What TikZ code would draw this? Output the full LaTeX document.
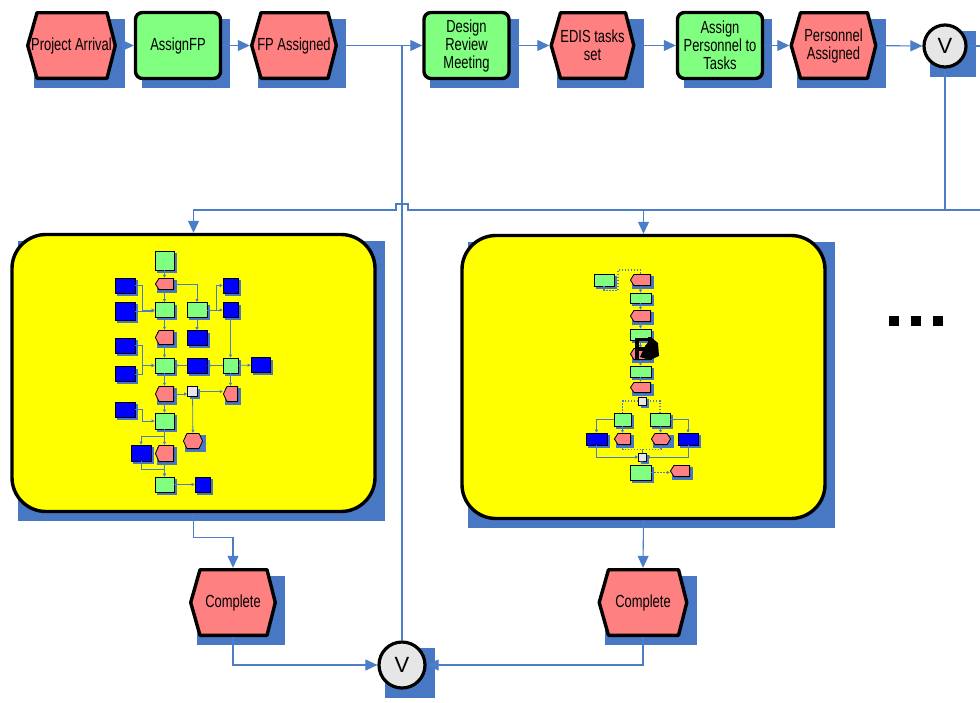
\documentclass[tikz,border=0pt]{standalone}
\usepackage{fontspec}
\setmainfont{Liberation Sans}
\newfontfamily\lbl{Liberation Sans}[FakeStretch=0.74]
\usepackage{tikz}
\usetikzlibrary{shapes, arrows.meta, positioning, calc, backgrounds}
\pgfdeclarelayer{sub}
\pgfdeclarelayer{subshade}
\pgfsetlayers{background,sub,subshade,main}

\definecolor{evtred}{RGB}{255,128,128}
\definecolor{fngreen}{RGB}{128,255,128}
\definecolor{shadowblue}{RGB}{72,120,196}
\definecolor{linkblue}{RGB}{74,126,200}
\definecolor{congray}{RGB}{230,230,230}
\definecolor{boxblue}{RGB}{0,0,255}
\definecolor{subyellow}{RGB}{255,255,0}

\tikzstyle{evt} = [rectangle, minimum width=88pt, minimum height=69pt, inner sep=2pt, align=center, font=\lbl\fontsize{17.5}{18}\selectfont, path picture={
    \filldraw[fill=evtred, line width=3.4pt, line join=round]
      ([xshift=1.7pt]path picture bounding box.west)
      -- ([xshift=11pt,yshift=-1.7pt]path picture bounding box.north west)
      -- ([xshift=-10pt,yshift=-1.7pt]path picture bounding box.north east)
      -- ([xshift=-1.7pt]path picture bounding box.east)
      -- ([xshift=-10pt,yshift=1.7pt]path picture bounding box.south east)
      -- ([xshift=11pt,yshift=1.7pt]path picture bounding box.south west) -- cycle;}]
\tikzstyle{fn} = [rectangle, draw, line width=3.4pt, fill=fngreen, rounded corners=7pt, minimum width=85pt, minimum height=66pt, inner sep=1pt, align=center, font=\lbl\fontsize{17.5}{18}\selectfont]
\tikzstyle{con} = [circle, draw, line width=3.2pt, fill=congray, minimum size=42pt, inner sep=0pt, font=\fontsize{22}{22}\selectfont]
\tikzstyle{subproc} = [rectangle, draw, line width=3.4pt, fill=subyellow, rounded corners=34pt, minimum width=363pt, minimum height=277pt]
\tikzstyle{flow} = [draw=linkblue, line width=1.1pt, -{Triangle[length=12pt, width=11pt]}]
\tikzstyle{link} = [draw=linkblue, line width=1.1pt]
% mini diagrams inside the sub processes
\tikzstyle{mfn} = [rectangle, draw, line width=0.8pt, fill=fngreen, minimum width=19pt, minimum height=15pt, inner sep=0pt]
\tikzstyle{mbx} = [rectangle, draw, line width=0.6pt, fill=boxblue, minimum width=20pt, minimum height=15pt, inner sep=0pt]
\tikzstyle{mcn} = [rectangle, draw, line width=0.6pt, fill=congray, minimum size=10pt, inner sep=0pt]
\tikzstyle{mev} = [rectangle, minimum width=19pt, minimum height=15pt, inner sep=0pt, path picture={
    \filldraw[fill=evtred, line width=0.8pt, line join=round]
      ([xshift=0.4pt]path picture bounding box.west)
      -- ([xshift=4pt,yshift=-0.4pt]path picture bounding box.north west)
      -- ([xshift=-0.4pt,yshift=-0.4pt]path picture bounding box.north east)
      -- ([xshift=-0.4pt,yshift=0.4pt]path picture bounding box.south east)
      -- ([xshift=4pt,yshift=0.4pt]path picture bounding box.south west) -- cycle;}]
\tikzstyle{mhx} = [rectangle, minimum width=20pt, minimum height=15pt, inner sep=0pt, path picture={
    \filldraw[fill=evtred, line width=0.8pt, line join=round]
      ([xshift=0.4pt]path picture bounding box.west)
      -- ([xshift=4pt,yshift=-0.4pt]path picture bounding box.north west)
      -- ([xshift=-4pt,yshift=-0.4pt]path picture bounding box.north east)
      -- ([xshift=-0.4pt]path picture bounding box.east)
      -- ([xshift=-4pt,yshift=0.4pt]path picture bounding box.south east)
      -- ([xshift=4pt,yshift=0.4pt]path picture bounding box.south west) -- cycle;}]
\tikzstyle{mlink} = [draw=linkblue, line width=0.8pt, -{Triangle[length=3pt, width=3pt]}]
\tikzstyle{mdot} = [draw=linkblue, line width=1.3pt, dash pattern=on 1.5pt off 1.5pt]

\begin{document}
\begin{tikzpicture}[x=1pt, y=-1pt]
        \useasboundingbox (0,0) rectangle (980,702);

        % Main chain
        \node[evt, minimum width=91pt] (pa) at (71.5,45.5) {Project Arrival};
        \node[fn] (afp) at (178,45.5) {AssignFP};
        \node[evt] (fpa) at (294,45.5) {FP Assigned};
        \node[fn] (drm) at (466.5,45.5) {Design\\Review\\Meeting};
        \node[evt, minimum width=86pt] (eds) at (592.5,45.5) {EDIS tasks\\set};
        \node[fn] (apt) at (720,45.5) {Assign\\Personnel to\\Tasks};
        \node[evt] (pas) at (833.5,45.5) {Personnel\\Assigned};
        \node[con] (v1) at (945,46) {V};

        % Sub processes
        \begin{pgfonlayer}{sub}
        \node[subproc] (bx1) at (193.5,373) {};
        \node[subproc, minimum height=283pt] (bx2) at (643.5,377) {};
        \end{pgfonlayer}

        % Join
        \node[evt] (c1) at (233,602.5) {Complete};
        \node[evt, minimum width=91pt] (c2) at (643,602.5) {Complete};
        \node[con, minimum size=46pt] (v2) at (402,665) {V};

        \coordinate (split) at (945,210);
        \coordinate (out1) at (980,46);
        \coordinate (out2) at (980,210);

        % Shadows
        \begin{scope}[on background layer]
        \foreach \n in {pa,afp,fpa,drm,eds,apt,pas,v1,bx1,bx2,c1,c2,v2}
            \fill[shadowblue] ($(\n.west |- \n.north)+(8,8)$) rectangle ($(\n.east |- \n.south)+(8,8)$);
        \end{scope}

        % Connectors
        \draw[flow] (pa) -- (afp);
        \draw[flow] (afp) -- (fpa);
        \draw[flow] (fpa) -- (drm);
        \draw[link] (v2.north |- fpa.east) -- (v2.north);
        \draw[flow] (drm) -- (eds);
        \draw[flow] (eds) -- (apt);
        \draw[flow] (apt) -- (pas);
        \draw[flow] (pas) -- (v1);
        \draw[link] (v1) -- (out1);
        \draw[link] (v1) -- (split) -- (out2);
        \draw[flow] (split) -- (bx2.north |- split) -- (bx2.north);
        \draw[flow] (bx2.north |- split) -- ($(v2.north |- split)+(6,0)$) -- ++(0,-6) -- ++(-12,0) -- ++(0,6) -- (bx1.north |- split) -- (bx1.north);
        \draw[flow] (bx1.south) -- ++(0,24) -| (c1.north);
        \draw[flow] (bx2.south) -- (c2.north);
        \draw[flow] (c1.south) |- (v2.west);
        \draw[flow] (c2.south) |- (v2.east);

        % More sub processes
        \foreach \x in {889,911,933}
            \fill (\x,316) rectangle ++(10,10);

        % Left sub process
        \node[mfn, minimum height=19pt] (l1) at (164.5,260.5) {};
        \node[mev, minimum height=12pt] (l2) at (164.5,284) {};
        \node[mbx] (l3) at (125,285.5) {};
        \node[mbx, minimum height=18pt] (l4) at (125,311) {};
        \node[mfn] (l5) at (164.5,310) {};
        \node[mfn, minimum width=20pt] (l6) at (197,310) {};
        \node[mbx, minimum width=15pt] (l7) at (230.5,285.5) {};
        \node[mbx, minimum width=15pt] (l8) at (230.5,310) {};
        \node[mev] (l9) at (164.5,337.5) {};
        \node[mbx] (l10) at (197,338) {};
        \node[mbx] (l11) at (125,345.5) {};
        \node[mbx] (l12) at (125,374) {};
        \node[mfn] (l13) at (164.5,365.5) {};
        \node[mbx] (l14) at (197,365.5) {};
        \node[mfn, minimum width=15pt] (l15) at (230.5,365.5) {};
        \node[mbx, minimum width=19pt] (l16) at (260.5,365) {};
        \node[mev, minimum height=16pt] (l17) at (164.5,394) {};
        \node[mcn] (l18) at (192.5,391.5) {};
        \node[mev, minimum width=15pt, minimum height=16pt] (l19) at (230.5,394) {};
        \node[mbx] (l20) at (125,409.5) {};
        \node[mfn, minimum height=16pt] (l21) at (164.5,421) {};
        \node[mhx, minimum height=16pt] (l22) at (193,441) {};
        \node[mbx, minimum height=16pt] (l23) at (141,453) {};
        \node[mev, minimum height=17pt] (l24) at (164.5,453.5) {};
        \node[mfn] (l25) at (164.5,484.5) {};
        \node[mbx, minimum width=15pt] (l26) at (202.5,484.5) {};

        \draw[mlink] (l1) -- (l2);
        \draw[mlink] (l2) -- (l5);
        \draw[mlink] (l3.east) -- ++(7,0) |- (l5.west);
        \draw[mlink] (l4.east) -- (l4.east -| l5.west);
        \draw[mlink] (l2.east) -| (l6.north);
        \draw[mlink] (l6.east) -- (l8.west);
        \draw[mlink] (l6.east) -- ++(9,0) |- (l7.west);
        \draw[mlink] (l5) -- (l9);
        \draw[mlink] (l6) -- (l10);
        \draw[mlink] (l9) -- (l13);
        \draw[mlink] (l11.east) -- ++(7,0) |- (l13.west);
        \draw[mlink] (l12.east) -- ++(7,0) |- (l13.west);
        \draw[mlink] (l14) -- (l13);
        \draw[mlink] (l15) -- (l14);
        \draw[mlink] (l15) -- (l16);
        \draw[mlink] (l8) -- (l15);
        \draw[mlink] (l13) -- (l17);
        \draw[mlink] (l17.east) -- (l17.east -| l18.west);
        \draw[mlink] (l18.east) -- (l18.east -| l19.west);
        \draw[mlink] (l15) -- (l19);
        \draw[mlink] (l18) -- (l22);
        \draw[mlink] (l17) -- (l21);
        \draw[mlink] (l20.east) -- ++(7,0) |- (l21.west);
        \draw[mlink] (l21) -- (l24);
        \draw[mlink] (l21.south) -- ++(0,7) -| (l23.north);
        \draw[mlink] (l24) -- (l25);
        \draw[mlink] (l23.south) -- ++(0,8) -| (l25.north);
        \draw[mlink] (l25) -- (l26);

        % Right sub process
        \node[mfn, minimum width=20pt, minimum height=12pt] (r1) at (604,280) {};
        \node[mev, minimum width=21pt, minimum height=12pt] (r2) at (640.5,280) {};
        \node[mfn, minimum width=21pt, minimum height=10pt] (r3) at (640.5,298) {};
        \node[mev, minimum width=21pt, minimum height=12pt] (r4) at (640.5,316) {};
        \node[mfn, minimum width=21pt, minimum height=11pt] (r5) at (640.5,334.5) {};
        \node[mev, minimum width=21pt, minimum height=12pt] (r6) at (640.5,354) {};
        \node[mfn, minimum width=21pt, minimum height=11pt] (r7) at (640.5,371.5) {};
        \node[mev, minimum width=21pt, minimum height=11pt] (r8) at (640.5,387.5) {};
        \node[mcn, minimum size=8pt] (r9) at (642.5,401) {};
        \node[mfn, minimum width=17pt, minimum height=13pt] (r10) at (622.5,419.5) {};
        \node[mfn, minimum width=20pt, minimum height=13pt] (r11) at (660,419.5) {};
        \node[mbx, minimum width=21pt, minimum height=12pt] (r12) at (596.5,439) {};
        \node[mev, minimum width=17pt, minimum height=12pt] (r13) at (622.5,439) {};
        \node[mhx, minimum width=20pt, minimum height=12pt] (r14) at (661,439) {};
        \node[mbx, minimum width=20pt, minimum height=12pt] (r15) at (688,439) {};
        \node[mcn, minimum size=8pt] (r16) at (642.5,457) {};
        \node[mfn, minimum width=21pt, minimum height=15pt] (r17) at (640.5,472.5) {};
        \node[mev, minimum width=20pt, minimum height=12pt] (r18) at (680,471) {};
        \coordinate (rj) at (618,270);

        \draw[mdot] (r1.south) -- ++(0,4) -| (rj) -| (r2.north);
        \draw[mlink] (r2) -- (r3);
        \draw[mlink] (r3) -- (r4);
        \draw[mlink] (r4) -- (r5);
        \draw[mlink] (r5) -- (r6);
        \draw[mlink] (r6) -- (r7);
        \draw[mlink] (r7) -- (r8);
        \draw[mlink] (r8) -- (r9);
        \draw[mdot] (r9.west) -| (r10.north);
        \draw[mdot] (r9.east) -| (r11.north);
        \draw[mlink] (r10.west) -| (r12.north);
        \draw[mlink] (r11.east) -| (r15.north);
        \draw[mlink] (r10) -- (r13);
        \draw[mlink] (r11) -- (r14);
        \draw[mdot] (r13.south) -- ++(0,4) -| (r16.north);
        \draw[mdot] (r14.south) -- ++(0,4) -| (r16.north);
        \draw[mlink] (r12.south) |- (r16.west);
        \draw[mlink] (r15.south) |- (r16.east);
        \draw[mlink] (r16) -- (r17);
        \draw[mdot, -{Triangle[length=3pt, width=3pt]}] (r17.east) -- (r17.east -| r18.west);

        % blot over the chain
        \fill (645,346) -- (652,338) -- (658,343) -- (659,356) -- (650,360) -- (640,357) -- cycle;
        \draw[line width=3.2pt] (637,338) -- (637,360);
        \draw[line width=3.2pt] (637,339.5) -- (649,339.5);
        \draw[line width=3.2pt] (637,349) -- (647,349);
        \draw[line width=3.2pt] (650,337) -- (650,360);

        % Mini shadows
        \begin{pgfonlayer}{subshade}
        \foreach \i in {1,...,26}
            \fill[shadowblue] ($(l\i.south west)+(2.5,2.5)$) rectangle ($(l\i.north east)+(2.5,2.5)$);
        \foreach \i in {1,...,18}
            \fill[shadowblue] ($(r\i.south west)+(2.5,2.5)$) rectangle ($(r\i.north east)+(2.5,2.5)$);
        \end{pgfonlayer}

    \end{tikzpicture}
\end{document}
